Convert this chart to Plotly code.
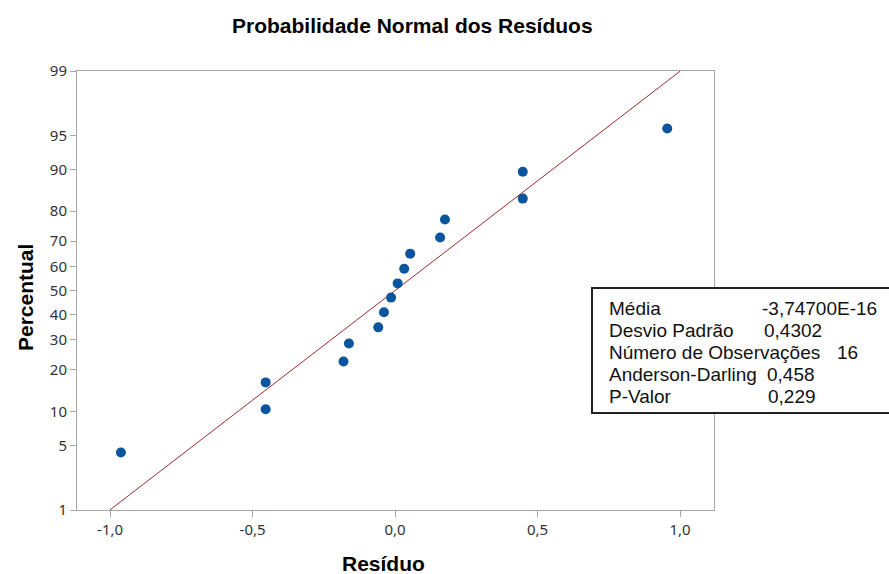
import plotly.graph_objects as go
from statistics import NormalDist

# ---- data ----
residuos = [-0.962, -0.454, -0.454, -0.181, -0.162, -0.059, -0.039, -0.014,
            0.009, 0.032, 0.053, 0.158, 0.175, 0.448, 0.448, 0.955]
percentual = [4.3, 10.4, 16.5, 22.6, 28.7, 34.8, 40.9, 47.0,
              53.0, 59.1, 65.2, 71.3, 77.4, 83.5, 89.6, 95.7]
media = -3.747e-16
desvio = 0.4302

y_ticks_pct = [1, 5, 10, 20, 30, 40, 50, 60, 70, 80, 90, 95, 99]
x_ticks = [-1.0, -0.5, 0.0, 0.5, 1.0]
x_ticklabels = ["-1,0", "-0,5", "0,0", "0,5", "1,0"]

stats_labels = ["Média", "Desvio Padrão", "Número de Observações", "Anderson-Darling", "P-Valor"]
stats_values = ["-3,74700E-16", "0,4302", "16", "0,458", "0,229"]

# ---- probability scale ----
nd = NormalDist()
def z(p):
    return nd.inv_cdf(p / 100.0)

W, H = 889, 574
L, R, T, B = 77, 714, 71, 510

def px(xp):
    return (xp - L) / (R - L)

def py(yp):
    return (B - yp) / (B - T)

fig = go.Figure()

# fitted normal line from 1% to 99%
line_p = [1, 99]
fig.add_trace(go.Scatter(
    x=[media + desvio * z(p) for p in line_p],
    y=[z(p) for p in line_p],
    mode="lines",
    line=dict(color="#9b2a2a", width=1),
    hoverinfo="skip",
    showlegend=False,
))

fig.add_trace(go.Scatter(
    x=residuos,
    y=[z(p) for p in percentual],
    mode="markers",
    marker=dict(color="#0b559f", size=10),
    showlegend=False,
))

axis_common = dict(
    showline=True, mirror=True, linecolor="#a6a6a6", linewidth=1,
    ticks="outside", ticklen=6, tickcolor="#a6a6a6", tickwidth=1,
    showgrid=False, zeroline=False,
    tickfont=dict(family="Noto Sans, Open Sans, sans-serif", size=15, color="#333333"),
)

fig.update_xaxes(range=[-1.116, 1.119], tickvals=x_ticks, ticktext=x_ticklabels, **axis_common)
fig.update_yaxes(range=[z(1), z(99)], tickvals=[z(p) for p in y_ticks_pct],
                 ticktext=[str(p) for p in y_ticks_pct], **axis_common)

bold_font = dict(family="Liberation Sans, Arial, sans-serif", size=21, color="#000000")
ann = []
ann.append(dict(text="<b>Probabilidade Normal dos Resíduos</b>", x=px(412), y=py(25),
                xref="paper", yref="paper", showarrow=False, xanchor="center", yanchor="middle",
                font=bold_font))
ann.append(dict(text="<b>Resíduo</b>", x=px(383), y=py(563),
                xref="paper", yref="paper", showarrow=False, xanchor="center", yanchor="middle",
                font=bold_font))
ann.append(dict(text="<b>Percentual</b>", x=px(25), y=py(298), textangle=-90,
                xref="paper", yref="paper", showarrow=False, xanchor="center", yanchor="middle",
                font=bold_font))

box_font = dict(family="Liberation Sans, Arial, sans-serif", size=19, color="#111111")
line_y = [308, 330, 352, 374, 396]
value_x = [761, 763, 836, 766, 767]
for lab, val, yy, vx in zip(stats_labels, stats_values, line_y, value_x):
    ann.append(dict(text=lab, x=px(608), y=py(yy), xref="paper", yref="paper", showarrow=False,
                    xanchor="left", yanchor="middle", font=box_font, borderpad=0))
    ann.append(dict(text=val, x=px(vx), y=py(yy), xref="paper", yref="paper", showarrow=False,
                    xanchor="left", yanchor="middle", font=box_font, borderpad=0))

fig.update_layout(
    width=W, height=H,
    margin=dict(l=L, r=W - R, t=T, b=H - B, pad=0),
    paper_bgcolor="white", plot_bgcolor="white",
    annotations=ann,
    shapes=[dict(type="rect", xref="paper", yref="paper",
                 x0=px(592), x1=px(900), y0=py(413), y1=py(288),
                 line=dict(color="#222222", width=2), fillcolor="white", layer="above")],
)

fig.write_html("out.html")
